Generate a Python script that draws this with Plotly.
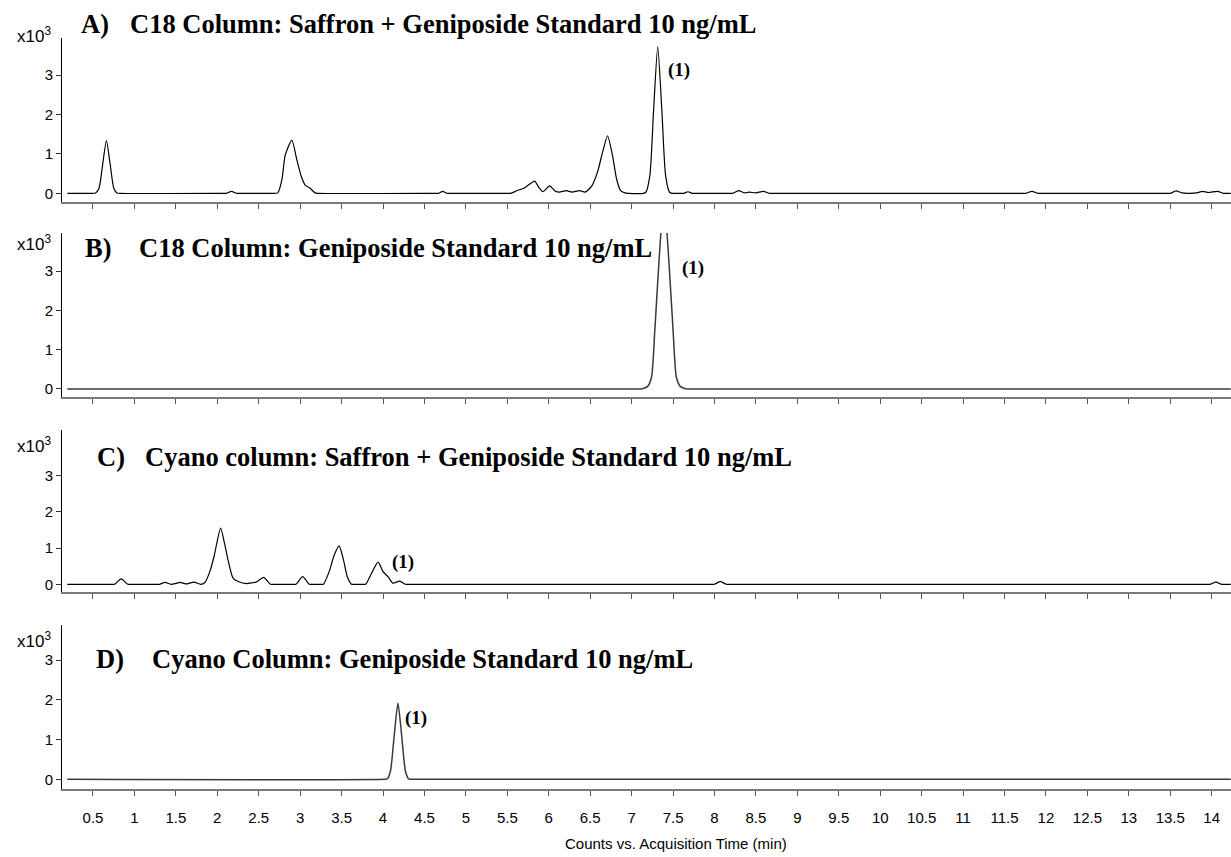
import plotly.graph_objects as go

# ---------------- data (intensity in x10^3 counts, time in min) ----------------
time_a = [0.19, 0.50, 0.53, 0.572, 0.617, 0.662, 0.707, 0.752, 0.79, 0.82,
          2.08, 2.11, 2.17, 2.23, 2.26,
          2.70, 2.73, 2.78, 2.82, 2.90, 2.96, 3.01, 3.06, 3.12, 3.18, 3.21,
          4.64, 4.67, 4.72, 4.77, 4.80,
          5.52, 5.55, 5.62, 5.70, 5.78, 5.83, 5.88, 5.93, 6.01, 6.08, 6.13, 6.21, 6.28, 6.37, 6.44,
          6.52, 6.59, 6.65, 6.71, 6.77, 6.82, 6.87, 6.93, 6.96,
          7.14, 7.17, 7.22, 7.265, 7.315, 7.365, 7.41, 7.46, 7.49,
          7.60, 7.63, 7.68, 7.73, 7.76,
          8.19, 8.22, 8.29, 8.36, 8.42, 8.50, 8.59, 8.66, 8.69,
          11.73, 11.76, 11.83, 11.90, 11.93,
          13.47, 13.50, 13.57, 13.64, 13.72, 13.82, 13.89, 13.96, 14.07, 14.14, 14.17, 14.23]
counts_a = [0, 0, 0.01, 0.12, 0.74, 1.34, 0.74, 0.12, 0.01, 0,
            0, 0, 0.05, 0, 0,
            0, 0.01, 0.35, 0.97, 1.35, 0.85, 0.45, 0.21, 0.13, 0.01, 0,
            0, 0, 0.05, 0, 0,
            0, 0.005, 0.07, 0.13, 0.25, 0.31, 0.15, 0.04, 0.19, 0.05, 0.03, 0.07, 0.03, 0.07, 0.03,
            0.19, 0.55, 1.05, 1.46, 0.95, 0.35, 0.06, 0.005, 0,
            0, 0.02, 0.45, 2.1, 3.72, 2.1, 0.45, 0.02, 0,
            0, 0, 0.04, 0, 0,
            0, 0, 0.07, 0.01, 0.03, 0.01, 0.05, 0, 0,
            0, 0, 0.05, 0, 0,
            0, 0, 0.06, 0.01, 0, 0.01, 0.05, 0.02, 0.05, 0, 0, 0]

time_b = [0.19, 7.08, 7.11, 7.14, 7.19, 7.24, 7.28, 7.32, 7.355, 7.39, 7.425, 7.46, 7.50,
          7.54, 7.59, 7.64, 7.67, 7.70, 14.23]
counts_b = [0, 0, 0, 0.01, 0.06, 0.3, 1.5, 2.9, 4.0, 4.6, 4.0, 2.9, 1.5,
            0.3, 0.06, 0.01, 0, 0, 0]

time_c = [0.19, 0.73, 0.76, 0.84, 0.92, 0.95,
          1.27, 1.30, 1.37, 1.44, 1.48, 1.55, 1.62, 1.72, 1.80,
          1.85, 1.91, 1.96, 2.04, 2.09, 2.13, 2.19, 2.26, 2.35, 2.42, 2.47, 2.56, 2.64, 2.67,
          2.92, 2.95, 3.03, 3.11, 3.14,
          3.25, 3.28, 3.35, 3.41, 3.47, 3.52, 3.57, 3.62, 3.65,
          3.76, 3.79, 3.85, 3.94, 4.00, 4.06, 4.12, 4.20, 4.27, 4.30,
          7.97, 8.00, 8.07, 8.14, 8.17,
          13.95, 13.98, 14.05, 14.12, 14.15, 14.23]
counts_c = [0, 0, 0, 0.15, 0, 0,
            0, 0, 0.05, 0, 0.01, 0.05, 0.01, 0.06, 0,
            0.05, 0.35, 0.76, 1.55, 1.1, 0.67, 0.17, 0.07, 0.02, 0.04, 0.06, 0.19, 0, 0,
            0, 0, 0.21, 0, 0,
            0, 0, 0.35, 0.8, 1.06, 0.7, 0.2, 0, 0,
            0, 0, 0.25, 0.61, 0.35, 0.21, 0.03, 0.09, 0, 0,
            0, 0, 0.08, 0, 0,
            0, 0, 0.06, 0, 0, 0]

time_d = [0.19, 4.02, 4.05, 4.09, 4.135, 4.18, 4.225, 4.27, 4.31, 4.34, 14.23]
counts_d = [0, 0, 0.01, 0.21, 1.1, 1.92, 1.1, 0.21, 0.01, 0, 0]

x_tick_vals = [0.5 * k for k in range(1, 29)]
y_tick_vals = [0, 1, 2, 3]

panel_letters = ["A)", "B)", "C)", "D)"]
panel_titles = ["C18 Column: Saffron + Geniposide Standard 10 ng/mL",
                "C18 Column: Geniposide Standard 10 ng/mL",
                "Cyano column: Saffron + Geniposide Standard 10 ng/mL",
                "Cyano Column: Geniposide Standard 10 ng/mL"]
peak_label = "(1)"
x_title = "Counts vs. Acquisition Time (min)"

# ---------------- layout helpers ----------------
W, H = 1231, 857
ML = 62


def px_x(p):
    return (p - ML) / (W - ML)


def px_y(p):
    return 1 - p / H


series = [(time_a, counts_a, "black", 1.2),
          (time_b, counts_b, "#3a3a3a", 1.5),
          (time_c, counts_c, "black", 1.2),
          (time_d, counts_d, "#3a3a3a", 1.5)]

panel_px = [(38, 201.7), (233, 397), (430, 592), (625, 789)]
y_ranges = [(-0.213, 3.94), (-0.204, 3.97), (-0.213, 4.26), (-0.244, 3.88)]
x_range = [0.126, 14.233]

fig = go.Figure()
for i, (t, c, col, lw) in enumerate(series):
    sfx = "" if i == 0 else str(i + 1)
    fig.add_trace(go.Scatter(x=t, y=c, mode="lines",
                             line=dict(color=col, width=lw, shape="spline", smoothing=0.6),
                             xaxis="x" + sfx, yaxis="y" + sfx, showlegend=False,
                             hoverinfo="skip"))
    top, bot = panel_px[i]
    fig.layout["xaxis" + sfx] = dict(
        domain=[0, 1], anchor="y" + sfx, range=x_range, showgrid=False, zeroline=False,
        showline=True, linecolor="#7a7a7a", linewidth=2,
        ticks="outside", ticklen=5, tickcolor="#555555", tickwidth=1,
        tickvals=x_tick_vals, showticklabels=(i == 3),
        tickfont=dict(family="Liberation Sans, Arial", size=15, color="black"),
        ticklabelstandoff=9)
    fig.layout["yaxis" + sfx] = dict(
        domain=[px_y(bot), px_y(top)], anchor="x" + sfx, range=list(y_ranges[i]),
        showgrid=False, zeroline=False, showline=True, linecolor="black", linewidth=1,
        ticks="outside", ticklen=5, tickcolor="#333333", tickwidth=1,
        tickvals=y_tick_vals,
        tickfont=dict(family="Liberation Sans, Arial", size=15, color="black"))

annotations = []
mult_y = [35, 243, 445, 640]
letter_x = [79, 83, 95, 94]
title_x = [128, 137, 143, 150]
title_y = [24, 248, 457, 659]
label_pos = [(666, 70), (680, 268), (390, 562), (403, 718)]
title_font = dict(family="Liberation Serif, Times New Roman", size=26.5, color="black", weight="bold")
for i in range(4):
    annotations.append(dict(text="x10<sup>3</sup>", x=px_x(53), y=px_y(mult_y[i]), xref="paper",
                            yref="paper", xanchor="right", yanchor="middle", showarrow=False,
                            font=dict(family="Liberation Sans, Arial", size=17, color="black")))
    annotations.append(dict(text=panel_letters[i], x=px_x(letter_x[i]), y=px_y(title_y[i]),
                            xref="paper", yref="paper", xanchor="left", yanchor="middle",
                            showarrow=False, font=title_font))
    annotations.append(dict(text=panel_titles[i], x=px_x(title_x[i]), y=px_y(title_y[i]),
                            xref="paper", yref="paper", xanchor="left", yanchor="middle",
                            showarrow=False, font=title_font))
    lx, ly = label_pos[i]
    annotations.append(dict(text=peak_label, x=px_x(lx), y=px_y(ly), xref="paper", yref="paper",
                            xanchor="left", yanchor="middle", showarrow=False,
                            font=dict(family="Liberation Serif, Times New Roman", size=19,
                                      color="black", weight="bold")))
annotations.append(dict(text=x_title, x=px_x(676), y=px_y(843), xref="paper", yref="paper",
                        xanchor="center", yanchor="middle", showarrow=False,
                        font=dict(family="Liberation Sans, Arial", size=15, color="black")))

fig.update_layout(width=W, height=H, margin=dict(l=ML, r=0, t=0, b=0),
                  paper_bgcolor="white", plot_bgcolor="white", annotations=annotations)

fig.write_html("out.html")
